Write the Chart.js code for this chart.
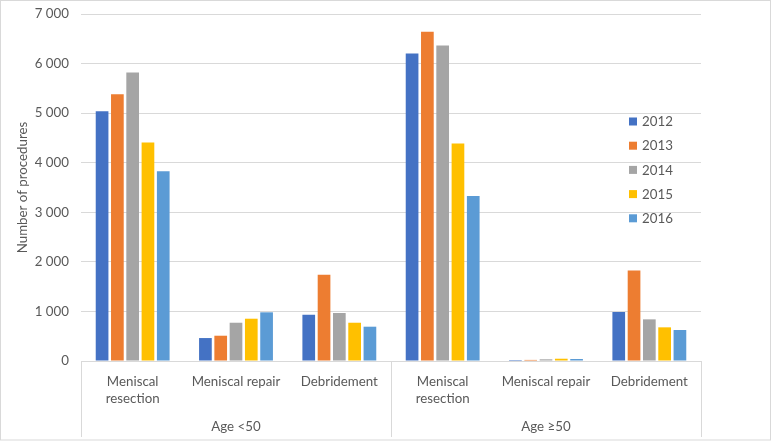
<!DOCTYPE html>
<html>
<head>
<meta charset="utf-8">
<script src="https://cdn.jsdelivr.net/npm/chart.js@4/dist/chart.umd.min.js"></script>
<style>
  html, body { margin: 0; padding: 0; background: #ffffff; }
  #wrap { width: 773px; height: 442px; position: relative; }
</style>
</head>
<body>
<div id="wrap"><canvas id="c" width="773" height="442"></canvas></div>
<script>
// ---- Data ----
const categories = [
  ['Meniscal', 'resection'], 'Meniscal repair', 'Debridement',
  ['Meniscal', 'resection'], 'Meniscal repair', 'Debridement'
];
const groups = ['Age <50', 'Age \u226550'];
const groupSizes = [3, 3];
const years = ['2012', '2013', '2014', '2015', '2016'];
const values2012 = [5040, 463, 933, 6203, 20, 988];
const values2013 = [5383, 510, 1740, 6640, 22, 1828];
const values2014 = [5820, 772, 968, 6365, 34, 840];
const values2015 = [4409, 853, 772, 4389, 46, 679];
const values2016 = [3830, 982, 692, 3327, 40, 625];
const yTicks = [0, 1000, 2000, 3000, 4000, 5000, 6000, 7000];
const yTitle = 'Number of procedures';

const colors = ['#4472C4', '#ED7D31', '#A5A5A5', '#FFC000', '#5B9BD5'];
const seriesValues = [values2012, values2013, values2014, values2015, values2016];
const FONT = 'Lato, "Liberation Sans", sans-serif';
const TXT = '#595959';
const GRID = '#d9d9d9';

const fmt = v => String(v).replace(/\B(?=(\d{3})+(?!\d))/g, ' ');

const groupPlugin = {
  id: 'groupPlugin',
  afterDraw(chart) {
    const ctx = chart.ctx;
    const x = chart.scales.x;
    const area = chart.chartArea;
    const half = (x.getPixelForValue(1) - x.getPixelForValue(0)) / 2;
    ctx.save();
    // separators
    ctx.strokeStyle = GRID;
    ctx.lineWidth = 1;
    const bottomY = 437;
    let idx = 0;
    const bounds = [x.left];
    groupSizes.forEach(n => { idx += n; bounds.push(x.getPixelForValue(idx - 1) + half); });
    bounds.forEach(b => {
      const px = Math.round(b) + 0.5;
      ctx.beginPath(); ctx.moveTo(px, area.bottom); ctx.lineTo(px, bottomY); ctx.stroke();
    });
    // group labels
    ctx.fillStyle = TXT;
    ctx.font = '13.3px ' + FONT;
    ctx.textAlign = 'center';
    ctx.textBaseline = 'middle';
    groups.forEach((g, i) => {
      ctx.fillText(g, (bounds[i] + bounds[i + 1]) / 2, 427);
    });
    // legend
    const lx = 629, ly0 = 121.5, step = 24.2;
    chart.data.datasets.forEach((ds, i) => {
      const y = ly0 + i * step;
      ctx.fillStyle = ds.backgroundColor;
      ctx.fillRect(lx, y - 4, 8, 8);
      ctx.fillStyle = TXT;
      ctx.textAlign = 'left';
      ctx.fillText(ds.label, lx + 13, y + 0.5);
    });
    // frame
    ctx.strokeStyle = GRID;
    ctx.strokeRect(0.5, 0.5, 770, 439.5);
    ctx.restore();
  }
};

new Chart(document.getElementById('c'), {
  type: 'bar',
  data: {
    labels: categories,
    datasets: years.map((y, i) => ({
      label: y,
      data: seriesValues[i],
      backgroundColor: colors[i],
      borderWidth: 0,
      categoryPercentage: 0.74,
      barPercentage: 0.83
    }))
  },
  options: {
    responsive: false,
    animation: false,
    devicePixelRatio: 1,
    layout: { padding: { top: 14, right: 72, bottom: 0, left: 0 } },
    plugins: { legend: { display: false }, tooltip: { enabled: false } },
    scales: {
      x: {
        grid: { display: false, drawTicks: false },
        border: { display: true, color: GRID },
        ticks: { color: TXT, font: { family: FONT, size: 13.3, lineHeight: 1.3 }, padding: 12, maxRotation: 0, autoSkip: false },
        afterFit(s) { s.height = 81; s.paddingLeft = 0; s.paddingRight = 0; }
      },
      y: {
        min: 0, max: 7000,
        afterBuildTicks(s) { s.ticks = yTicks.map(v => ({ value: v })); },
        grid: { color: GRID, drawTicks: false },
        border: { display: false },
        ticks: { color: TXT, font: { family: FONT, size: 13.3 }, padding: 12, callback: v => fmt(v) },
        title: { display: true, text: yTitle, color: TXT, font: { family: FONT, size: 13.3 }, padding: { top: 15, bottom: 0 } },
        afterFit(s) { s.width = 81; s.paddingTop = 0; s.paddingBottom = 0; }
      }
    }
  },
  plugins: [groupPlugin]
});
</script>
</body>
</html>
